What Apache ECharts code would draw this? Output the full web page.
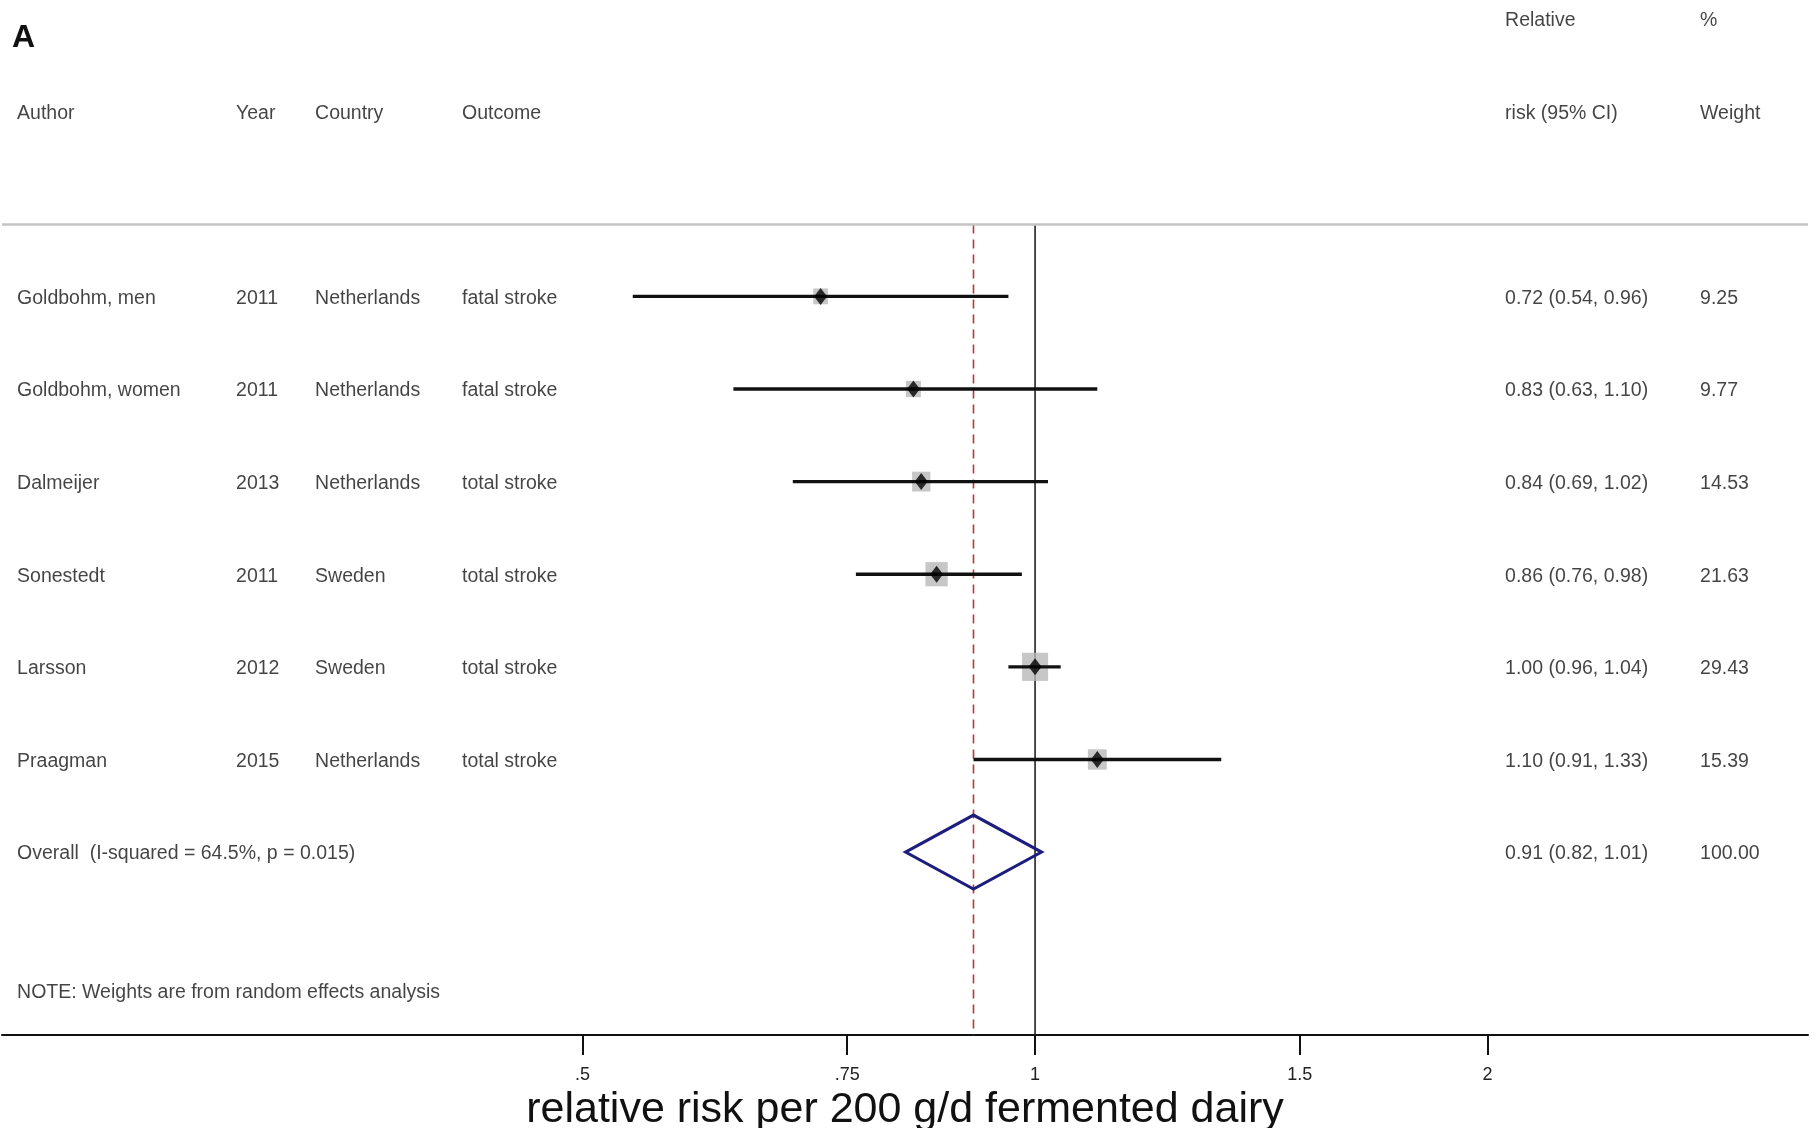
<!DOCTYPE html>
<html>
<head>
<meta charset="utf-8">
<script src="https://cdn.jsdelivr.net/npm/echarts@6/dist/echarts.min.js"></script>
<style>
html,body{margin:0;padding:0;background:#fff}
#chart{width:1816px;height:1128px}
</style>
</head>
<body>
<div id="chart"></div>
<script>
// study rows
const authors = ['Goldbohm, men', 'Goldbohm, women', 'Dalmeijer', 'Sonestedt', 'Larsson', 'Praagman'];
const years = [2011, 2011, 2013, 2011, 2012, 2015];
const countries = ['Netherlands', 'Netherlands', 'Netherlands', 'Sweden', 'Sweden', 'Netherlands'];
const outcomes = ['fatal stroke', 'fatal stroke', 'total stroke', 'total stroke', 'total stroke', 'total stroke'];
const rr = [0.72, 0.83, 0.84, 0.86, 1.00, 1.10];
const lower = [0.54, 0.63, 0.69, 0.76, 0.96, 0.91];
const upper = [0.96, 1.10, 1.02, 0.98, 1.04, 1.33];
const weights = [9.25, 9.77, 14.53, 21.63, 29.43, 15.39];

// pooled estimate
const overallRR = 0.91, overallLower = 0.82, overallUpper = 1.01, overallWeight = 100.00;
const overallLabel = 'Overall  (I-squared = 64.5%, p = 0.015)';
const noteText = 'NOTE: Weights are from random effects analysis';

// x axis
const tickValues = [0.5, 0.75, 1, 1.5, 2];
const tickLabels = ['.5', '.75', '1', '1.5', '2'];
const axisTitle = 'relative risk per 200 g/d fermented dairy';

// layout (rows are y units, columns are page px)
const ROW_OVERALL = 6, ROW_NOTE = 7.5, ROW_HEAD1 = -3, ROW_HEAD2 = -2, ROW_SEP = -0.776;
const COL = {author: 17, year: 236, country: 315, outcome: 462, rr: 1505, wt: 1700};
const GRID_L = 2, GRID_R = 1808;
const FONT = '"Liberation Sans", Arial, sans-serif';
const TEXT_COLOR = '#141414';

const fmt = v => v.toFixed(2);

// text cells
const cells = [];
function cell(text, x, row){ cells.push({name: String(text), value: [x, row]}); }
cell('Relative', COL.rr, ROW_HEAD1); cell('%', COL.wt, ROW_HEAD1);
cell('Author', COL.author, ROW_HEAD2); cell('Year', COL.year, ROW_HEAD2);
cell('Country', COL.country, ROW_HEAD2); cell('Outcome', COL.outcome, ROW_HEAD2);
cell('risk (95% CI)', COL.rr, ROW_HEAD2); cell('Weight', COL.wt, ROW_HEAD2);
authors.forEach((a, i) => {
    cell(a, COL.author, i); cell(years[i], COL.year, i);
    cell(countries[i], COL.country, i); cell(outcomes[i], COL.outcome, i);
    cell(`${fmt(rr[i])} (${fmt(lower[i])}, ${fmt(upper[i])})`, COL.rr, i);
    cell(fmt(weights[i]), COL.wt, i);
});
cell(overallLabel, COL.author, ROW_OVERALL);
cell(`${fmt(overallRR)} (${fmt(overallLower)}, ${fmt(overallUpper)})`, COL.rr, ROW_OVERALL);
cell(fmt(overallWeight), COL.wt, ROW_OVERALL);
cell(noteText, COL.author, ROW_NOTE);

const ciData = authors.map((a, i) => [lower[i], upper[i], i]);
const pointData = authors.map((a, i) => [rr[i], i, weights[i]]);

const chart = echarts.init(document.getElementById('chart'));
chart.setOption({
    backgroundColor: '#fff',
    animation: false,
    title: {text: 'A', left: 7, top: 17, textStyle: {fontFamily: FONT, fontSize: 32, fontWeight: 'bold', color: '#111'}},
    grid: {left: GRID_L, right: 1816 - GRID_R, top: 0, bottom: 93, outerBoundsMode: 'none', containLabel: false},
    xAxis: [{
        type: 'log', min: 0.2055, max: 3.267,
        name: axisTitle, nameLocation: 'middle', nameGap: 48,
        nameTextStyle: {fontFamily: FONT, fontSize: 43, color: '#111'},
        axisLine: {onZero: false, lineStyle: {color: '#111', width: 2}},
        axisTick: {customValues: tickValues, length: 20, lineStyle: {color: '#111', width: 2}},
        axisLabel: {customValues: tickValues, margin: 31, fontFamily: FONT, fontSize: 18, color: '#222',
            formatter: v => tickLabels[tickValues.findIndex(t => Math.abs(t - v) < 1e-6)] ?? ''},
        splitLine: {show: false}
    }, {
        type: 'value', min: GRID_L, max: GRID_R, show: false
    }],
    yAxis: {type: 'value', inverse: true, min: -3.2, max: 7.975, show: false},
    series: [
        {   // header separator
            type: 'custom', silent: true, data: [[1, ROW_SEP]],
            renderItem: (params, api) => {
                const y = api.coord([1, ROW_SEP])[1];
                return {type: 'line', shape: {x1: params.coordSys.x, y1: y, x2: params.coordSys.x + params.coordSys.width, y2: y},
                    style: {stroke: '#c4c4c4', lineWidth: 2.5}};
            }
        },
        {   // null line and pooled estimate line
            type: 'custom', silent: true, data: [[1], [overallRR]], z: 1,
            renderItem: (params, api) => {
                const x = api.coord([api.value(0), ROW_SEP])[0];
                const y1 = api.coord([1, ROW_SEP])[1];
                const y2 = params.coordSys.y + params.coordSys.height;
                const pooled = params.dataIndex === 1;
                return {type: 'line', shape: {x1: x, y1: y1, x2: x, y2: y2},
                    style: pooled ? {stroke: '#b53a3f', lineWidth: 1.6, lineDash: [9, 6]} : {stroke: '#222', lineWidth: 1.6}};
            }
        },
        {   // confidence intervals
            type: 'custom', silent: true, data: ciData, encode: {x: [0, 1], y: 2}, z: 3,
            renderItem: (params, api) => {
                const a = api.coord([api.value(0), api.value(2)]);
                const b = api.coord([api.value(1), api.value(2)]);
                return {type: 'line', shape: {x1: a[0], y1: a[1], x2: b[0], y2: b[1]}, style: {stroke: '#111', lineWidth: 3.4}};
            }
        },
        {   // weight boxes
            type: 'scatter', data: pointData, symbol: 'rect', z: 2,
            symbolSize: v => [4.8 * Math.sqrt(v[2]), 5.2 * Math.sqrt(v[2])],
            itemStyle: {color: '#b9b9b9'}
        },
        {   // point estimates
            type: 'scatter', data: pointData, symbol: 'diamond', symbolSize: [13, 17], z: 4,
            itemStyle: {color: '#000'}
        },
        {   // pooled diamond
            type: 'custom', silent: true, data: [[overallLower, overallRR, overallUpper, ROW_OVERALL]], z: 4,
            renderItem: (params, api) => {
                const row = api.value(3);
                const l = api.coord([api.value(0), row]);
                const m = api.coord([api.value(1), row]);
                const r = api.coord([api.value(2), row]);
                const h = 37;
                return {type: 'polygon', shape: {points: [l, [m[0], m[1] - h], r, [m[0], m[1] + h]]},
                    style: {fill: 'none', stroke: '#1d1d7d', lineWidth: 3}};
            }
        },
        {   // table text
            type: 'scatter', xAxisIndex: 1, data: cells, symbolSize: 0.1, silent: true,
            itemStyle: {color: 'transparent'},
            label: {show: true, position: 'right', distance: 0, offset: [0, 2], formatter: '{b}', align: 'left', verticalAlign: 'middle',
                fontFamily: FONT, fontSize: 19.5, color: TEXT_COLOR}
        }
    ]
});
window.addEventListener('resize', () => chart.resize());
</script>
</body>
</html>
